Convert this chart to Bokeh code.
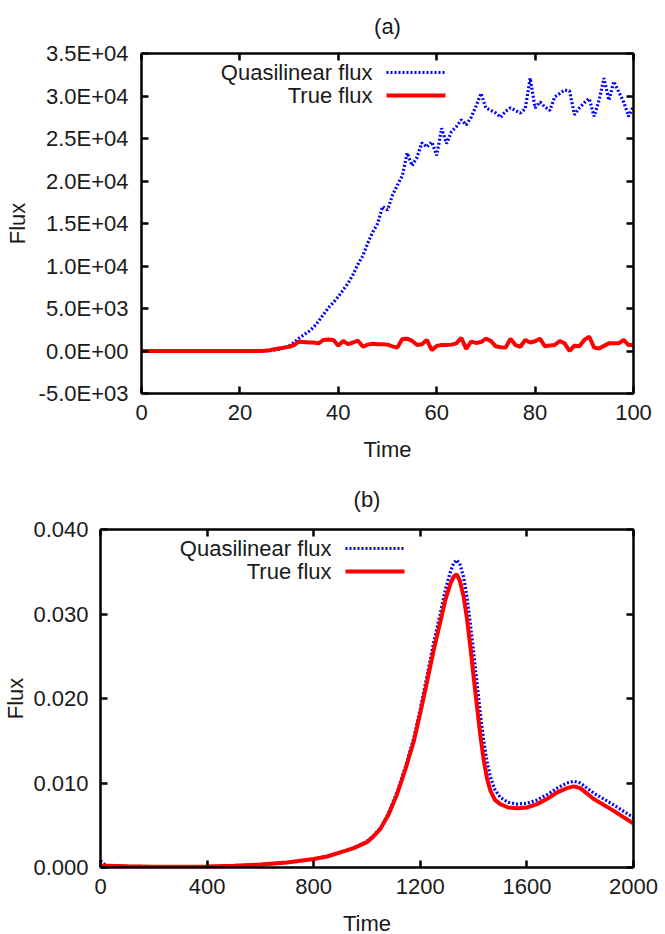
from bokeh.plotting import figure
from bokeh.models import Range1d, LinearAxis, FixedTicker, CustomJSTickFormatter, Label, Arrow
from bokeh.embed import file_html
from bokeh.resources import INLINE

# ---------------- data: panel (a) ----------------
time_a = list(range(0, 101))
quasi_a = [0] * 26 + [
    50, 100, 200, 350, 600, 1000, 1500, 1900, 2300, 2800,
    3500, 4300, 5100, 5700, 6400, 7200, 8000, 9000, 10200, 11200,
    12700, 14000, 15000, 17000, 16600, 18300, 19500, 20600, 23300, 21800,
    22800, 24500, 24000, 24600, 23000, 26200, 24400, 25800, 26400, 27200,
    26600, 27500, 28800, 30300, 28600, 28300, 28000, 27500, 28200, 28600,
    28300, 28000, 28500, 32100, 28600, 29300, 28700, 28300, 29900, 30300,
    30700, 30600, 27800, 28600, 29200, 29700, 27600, 29500, 32100, 29500,
    31700, 30500, 29300, 27600, 28800]
true_a = [0] * 25 + [
    30, 100, 200, 300, 400, 500, 700, 1100, 1050, 1000,
    1000, 900, 1300, 1350, 1300, 630, 1180, 800, 1000, 1220,
    500, 750, 850, 800, 800, 750, 550, 400, 1400, 1450,
    1200, 700, 800, 1300, 100, 600, 700, 720, 750, 900,
    1550, 250, 1100, 950, 1050, 1450, 1200, 550, 450, 400,
    1450, 700, 500, 1300, 1000, 1150, 1450, 550, 650, 700,
    1180, 900, 0, 630, 550, 1300, 1700, 400, 300, 600,
    900, 900, 900, 1300, 700, 700]
xticks_a = [0, 20, 40, 60, 80, 100]
yticks_a = [-5000, 0, 5000, 10000, 15000, 20000, 25000, 30000, 35000]
ylabels_a = ["-5.0E+03", "0.0E+00", "5.0E+03", "1.0E+04", "1.5E+04",
             "2.0E+04", "2.5E+04", "3.0E+04", "3.5E+04"]

# ---------------- data: panel (b) ----------------
time_b = [0, 20, 100, 200, 300, 400, 500, 600, 700, 800, 850, 900, 950, 1000, 1025,
          1051, 1080, 1113, 1145, 1176, 1200, 1226, 1250, 1276, 1295, 1313, 1325,
          1336, 1348, 1363, 1375, 1388, 1400, 1413, 1425, 1438, 1450, 1463, 1480,
          1500, 1530, 1564, 1600, 1638, 1680, 1714, 1750, 1776, 1800, 1851, 1926, 2000]
true_b = [0.0002, 0.0002, 0.00015, 0.0001, 0.0001, 0.00012, 0.0002, 0.00035, 0.0006,
          0.0010, 0.0013, 0.0018, 0.0023, 0.0030, 0.0037,
          0.0046, 0.0062, 0.0087, 0.0117, 0.0150, 0.0183, 0.0221, 0.0257, 0.0292,
          0.0318, 0.0336, 0.0344, 0.0347, 0.0340, 0.0320, 0.0295, 0.0261, 0.0226,
          0.0190, 0.0157, 0.0127, 0.0106, 0.0091, 0.0080, 0.0075, 0.0071, 0.0070,
          0.0071, 0.0075, 0.0082, 0.0089, 0.0094, 0.0096, 0.0094, 0.0081, 0.0067, 0.0052]
quasi_b = [0.0008, 0.0002, 0.00015, 0.0001, 0.0001, 0.00012, 0.0002, 0.00035, 0.0006,
           0.0010, 0.0013, 0.0018, 0.0023, 0.0031, 0.0038,
           0.0047, 0.0064, 0.0089, 0.0120, 0.0154, 0.0188, 0.0228, 0.0266, 0.0302,
           0.0330, 0.0350, 0.0360, 0.0364, 0.0360, 0.0343, 0.0320, 0.0288, 0.0255,
           0.0218, 0.0183, 0.0150, 0.0126, 0.0107, 0.0092, 0.0083, 0.0077, 0.0075,
           0.0076, 0.0080, 0.0087, 0.0094, 0.0100, 0.0102, 0.0100, 0.0088, 0.0074, 0.0059]
xticks_b = [0, 400, 800, 1200, 1600, 2000]
yticks_b = [0.0, 0.01, 0.02, 0.03, 0.04]
ylabels_b = ["0.000", "0.010", "0.020", "0.030", "0.040"]

series_names = ["Quasilinear flux", "True flux"]

FONT = "Liberation Sans"
FS = "22px"
TXT = "#1a1a1a"
BLUE = "#0000ff"
RED = "#ff0000"


def style_axis(ax, ticks, labels=None, show=True):
    ax.ticker = FixedTicker(ticks=ticks)
    ax.axis_line_width = 2.5
    ax.axis_line_color = "black"
    ax.major_tick_in = 7
    ax.major_tick_out = 0
    ax.major_tick_line_width = 2.5
    ax.major_tick_line_color = "black"
    ax.minor_tick_line_color = None
    ax.major_label_text_font = FONT
    ax.major_label_text_font_size = FS
    ax.major_label_text_color = TXT
    ax.axis_label_text_font = FONT
    ax.axis_label_text_font_size = FS
    ax.axis_label_text_font_style = "normal"
    ax.axis_label_text_color = TXT
    if labels is not None:
        ax.major_label_overrides = {t: l for t, l in zip(ticks, labels)}
    if not show:
        ax.formatter = CustomJSTickFormatter(code="return ''")
        ax.major_label_standoff = 0


def make_panel(title, title_standoff, ylab_standoff, ytick_standoff, xs, qs, ts, xr, yr,
               xticks, yticks, ylabels, fw, fh, bl, br, bt, bb, height):
    p = figure(width=bl + fw + br, height=height, frame_width=fw, frame_height=fh,
               x_range=Range1d(*xr), y_range=Range1d(*yr),
               output_backend="svg", toolbar_location=None,
               min_border_left=bl, min_border_right=br,
               min_border_top=bt, min_border_bottom=bb)
    p.grid.visible = False
    p.outline_line_color = None
    p.background_fill_color = "white"
    p.border_fill_color = "white"

    p.title.text = title
    p.title.align = "center"
    p.title.vertical_align = "top"
    p.title.text_font = FONT
    p.title.text_font_size = FS
    p.title.text_font_style = "normal"
    p.title.text_color = TXT
    p.title.standoff = title_standoff

    style_axis(p.xaxis[0], xticks)
    style_axis(p.yaxis[0], yticks, ylabels)
    p.xaxis[0].axis_label = "Time"
    p.yaxis[0].axis_label = "Flux"
    p.xaxis[0].major_label_standoff = 11
    p.yaxis[0].major_label_standoff = ytick_standoff
    p.xaxis[0].axis_label_standoff = 14
    p.yaxis[0].axis_label_standoff = ylab_standoff

    top = LinearAxis()
    right = LinearAxis()
    style_axis(top, xticks, show=False)
    style_axis(right, yticks, show=False)
    p.add_layout(top, "above")
    p.add_layout(right, "right")

    p.line(xs, qs, line_color=BLUE, line_width=3.2, line_dash="2 2")
    p.line(xs, ts, line_color=RED, line_width=4)

    # gnuplot-style key: text right-aligned, sample to its right
    rows_y = [fh - 19, fh - 42]
    styles = [dict(line_color=BLUE, line_width=3.2, line_dash="2 2"),
              dict(line_color=RED, line_width=4)]
    for name, yy, st in zip(series_names, rows_y, styles):
        p.add_layout(Label(x=231, y=yy, x_units="screen", y_units="screen",
                           text=name, text_align="right", text_baseline="middle",
                           text_font=FONT, text_font_size=FS, text_color=TXT))
        p.add_layout(Arrow(x_start=245, y_start=yy, x_end=304, y_end=yy,
                           start_units="screen", end_units="screen",
                           start=None, end=None, **st))
    return p


p1 = make_panel("(a)", 26, 6, 13, time_a, quasi_a, true_a, (0, 100), (-5000, 35000),
                xticks_a, yticks_a, ylabels_a, 492, 340, 141, 32, 53, 77, 470)
p2 = make_panel("(b)", 32, 2, 12, time_b, quasi_b, true_b, (0, 2000), (0, 0.04),
                xticks_b, yticks_b, ylabels_b, 533, 338, 100, 32, 59, 67, 464)

open("out.html", "w").write(file_html([p1, p2], INLINE))
